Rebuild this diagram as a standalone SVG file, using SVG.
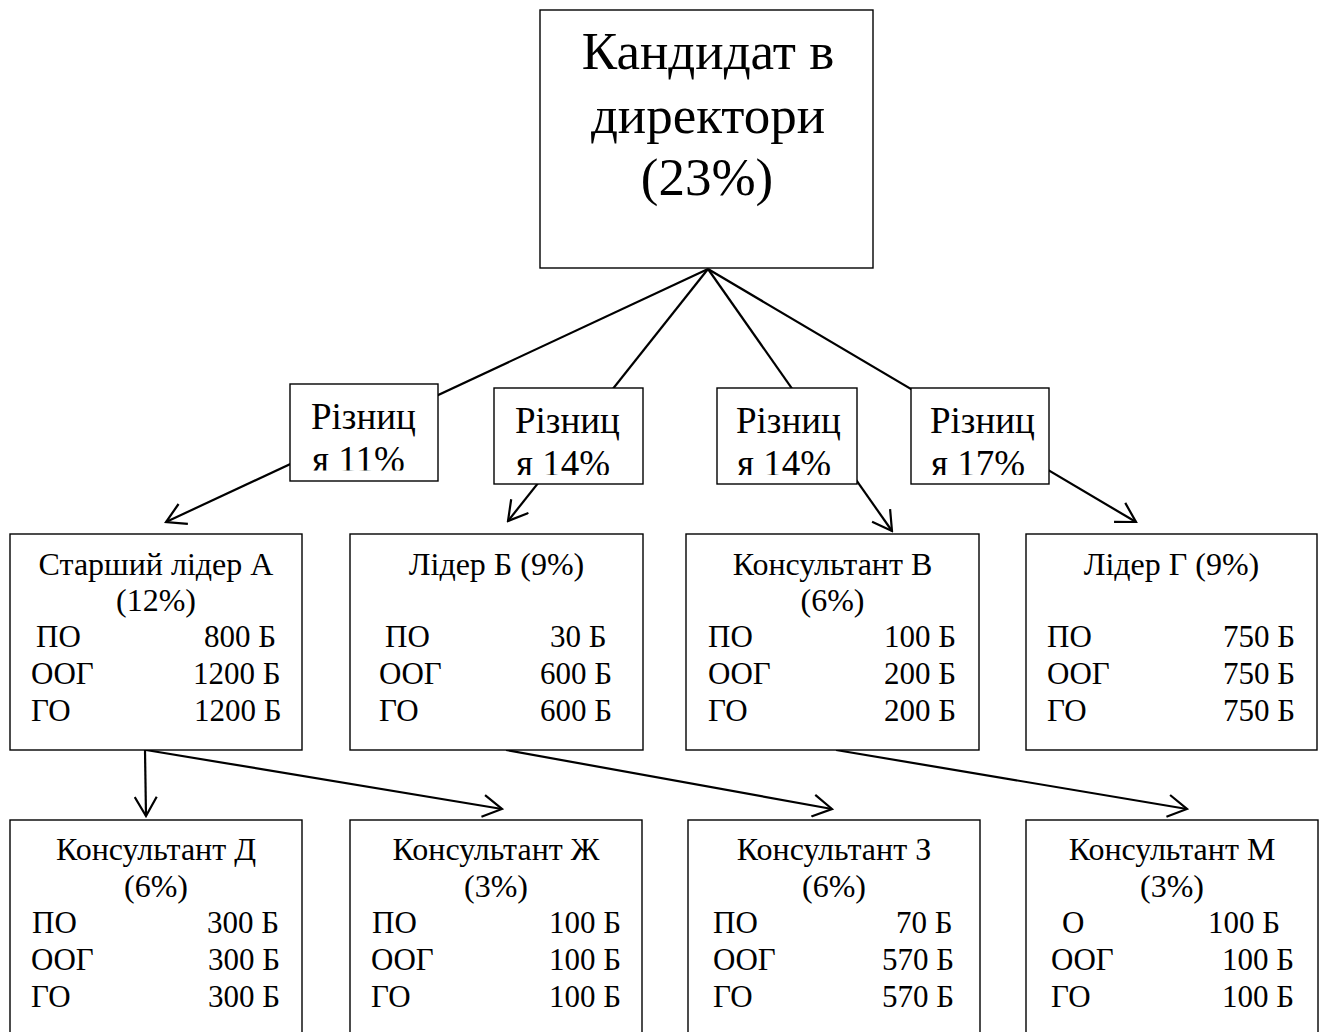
<svg xmlns="http://www.w3.org/2000/svg" width="1325" height="1032" viewBox="0 0 1325 1032">
  <defs>
    <style>
      .box { fill: #ffffff; stroke: #000000; stroke-width: 1.4; }
      .link { fill: none; stroke: #000000; stroke-width: 2.2; marker-end: url(#open); }
      text { font-family: "Liberation Serif", "Times New Roman", serif; fill: #000000; }
      .big { font-size: 53px; text-anchor: middle; }
      .diff { font-size: 37px; }
      .t { font-size: 31px; }
      .h { font-size: 32px; text-anchor: middle; }
    </style>
    <marker id="open" markerUnits="userSpaceOnUse" markerWidth="24" markerHeight="24" viewBox="0 0 24 24" refX="22" refY="12" orient="auto">
      <path d="M3,1 L22,12 L3,23" fill="none" stroke="#000000" stroke-width="2.2"/>
    </marker>
    <clipPath id="clip1"><rect x="290" y="384" width="148" height="86.5"/></clipPath>
    <clipPath id="clip2"><rect x="494" y="388" width="149" height="87"/></clipPath>
    <clipPath id="clip3"><rect x="717" y="388" width="140" height="87"/></clipPath>
    <clipPath id="clip4"><rect x="911" y="388" width="138" height="87"/></clipPath>
  </defs>

  <rect width="1325" height="1032" fill="#ffffff"/>

  <!-- connectors (drawn first so the boxes sit on top of them) -->
  <g id="connectors">
    <line class="link" x1="708" y1="269" x2="166" y2="522"/>
    <line class="link" x1="708" y1="269" x2="508" y2="521"/>
    <line class="link" x1="708" y1="269" x2="892" y2="531"/>
    <line class="link" x1="708" y1="269" x2="1136" y2="522"/>
    <line class="link" x1="145" y1="750" x2="146" y2="816"/>
    <line class="link" x1="146" y1="750" x2="502" y2="809"/>
    <line class="link" x1="506" y1="750" x2="832" y2="809"/>
    <line class="link" x1="836" y1="750" x2="1187" y2="809"/>
  </g>

  <!-- top node -->
  <g id="director">
    <rect class="box" x="540" y="10" width="333" height="258"/>
    <text class="big" x="708" y="69">Кандидат в</text>
    <text class="big" x="708" y="133">директори</text>
    <text class="big" x="707" y="195">(23%)</text>
  </g>

  <!-- difference labels -->
  <g id="diff1">
    <rect class="box" x="290" y="384" width="148" height="97"/>
    <g clip-path="url(#clip1)">
      <text class="diff" x="311" y="429">Різниц</text>
      <text class="diff" x="312" y="472">я 11%</text>
    </g>
  </g>
  <g id="diff2">
    <rect class="box" x="494" y="388" width="149" height="96"/>
    <g clip-path="url(#clip2)">
      <text class="diff" x="515" y="433">Різниц</text>
      <text class="diff" x="516" y="476">я 14%</text>
    </g>
  </g>
  <g id="diff3">
    <rect class="box" x="717" y="388" width="140" height="96"/>
    <g clip-path="url(#clip3)">
      <text class="diff" x="736" y="433">Різниц</text>
      <text class="diff" x="737" y="476">я 14%</text>
    </g>
  </g>
  <g id="diff4">
    <rect class="box" x="911" y="388" width="138" height="96"/>
    <g clip-path="url(#clip4)">
      <text class="diff" x="930" y="433">Різниц</text>
      <text class="diff" x="931" y="476">я 17%</text>
    </g>
  </g>

  <!-- second level -->
  <g id="leaderA">
    <rect class="box" x="10" y="534" width="292" height="216"/>
    <text class="h" x="156" y="575">Старший лідер А</text>
    <text class="h" x="156" y="611">(12%)</text>
    <text class="t" x="36" y="647">ПО</text>
    <text class="t" x="204" y="647">800 Б</text>
    <text class="t" x="31" y="684">ООГ</text>
    <text class="t" x="193" y="684">1200 Б</text>
    <text class="t" x="31" y="721">ГО</text>
    <text class="t" x="194" y="721">1200 Б</text>
  </g>
  <g id="leaderB">
    <rect class="box" x="350" y="534" width="293" height="216"/>
    <text class="h" x="496.5" y="575">Лідер Б (9%)</text>
    <text class="t" x="385" y="647">ПО</text>
    <text class="t" x="550" y="647">30 Б</text>
    <text class="t" x="379" y="684">ООГ</text>
    <text class="t" x="540" y="684">600 Б</text>
    <text class="t" x="379" y="721">ГО</text>
    <text class="t" x="540" y="721">600 Б</text>
  </g>
  <g id="consultantV">
    <rect class="box" x="686" y="534" width="293" height="216"/>
    <text class="h" x="832.5" y="575">Консультант В</text>
    <text class="h" x="832.5" y="611">(6%)</text>
    <text class="t" x="708" y="647">ПО</text>
    <text class="t" x="884" y="647">100 Б</text>
    <text class="t" x="708" y="684">ООГ</text>
    <text class="t" x="884" y="684">200 Б</text>
    <text class="t" x="708" y="721">ГО</text>
    <text class="t" x="884" y="721">200 Б</text>
  </g>
  <g id="leaderG">
    <rect class="box" x="1026" y="534" width="291" height="216"/>
    <text class="h" x="1171.5" y="575">Лідер Г (9%)</text>
    <text class="t" x="1047" y="647">ПО</text>
    <text class="t" x="1223" y="647">750 Б</text>
    <text class="t" x="1047" y="684">ООГ</text>
    <text class="t" x="1223" y="684">750 Б</text>
    <text class="t" x="1047" y="721">ГО</text>
    <text class="t" x="1223" y="721">750 Б</text>
  </g>

  <!-- third level -->
  <g id="consultantD">
    <rect class="box" x="10" y="820" width="292" height="230"/>
    <text class="h" x="156" y="860">Консультант Д</text>
    <text class="h" x="156" y="897">(6%)</text>
    <text class="t" x="32" y="933">ПО</text>
    <text class="t" x="207" y="933">300 Б</text>
    <text class="t" x="31" y="970">ООГ</text>
    <text class="t" x="208" y="970">300 Б</text>
    <text class="t" x="31" y="1007">ГО</text>
    <text class="t" x="208" y="1007">300 Б</text>
  </g>
  <g id="consultantZh">
    <rect class="box" x="350" y="820" width="292" height="230"/>
    <text class="h" x="496" y="860">Консультант Ж</text>
    <text class="h" x="496" y="897">(3%)</text>
    <text class="t" x="372" y="933">ПО</text>
    <text class="t" x="549" y="933">100 Б</text>
    <text class="t" x="371" y="970">ООГ</text>
    <text class="t" x="549" y="970">100 Б</text>
    <text class="t" x="371" y="1007">ГО</text>
    <text class="t" x="549" y="1007">100 Б</text>
  </g>
  <g id="consultantZ">
    <rect class="box" x="688" y="820" width="292" height="230"/>
    <text class="h" x="834" y="860">Консультант З</text>
    <text class="h" x="834" y="897">(6%)</text>
    <text class="t" x="713" y="933">ПО</text>
    <text class="t" x="896" y="933">70 Б</text>
    <text class="t" x="713" y="970">ООГ</text>
    <text class="t" x="882" y="970">570 Б</text>
    <text class="t" x="713" y="1007">ГО</text>
    <text class="t" x="882" y="1007">570 Б</text>
  </g>
  <g id="consultantM">
    <rect class="box" x="1026" y="820" width="292" height="230"/>
    <text class="h" x="1172" y="860">Консультант М</text>
    <text class="h" x="1172" y="897">(3%)</text>
    <text class="t" x="1062" y="933">О</text>
    <text class="t" x="1208" y="933">100 Б</text>
    <text class="t" x="1051" y="970">ООГ</text>
    <text class="t" x="1222" y="970">100 Б</text>
    <text class="t" x="1051" y="1007">ГО</text>
    <text class="t" x="1222" y="1007">100 Б</text>
  </g>
</svg>
